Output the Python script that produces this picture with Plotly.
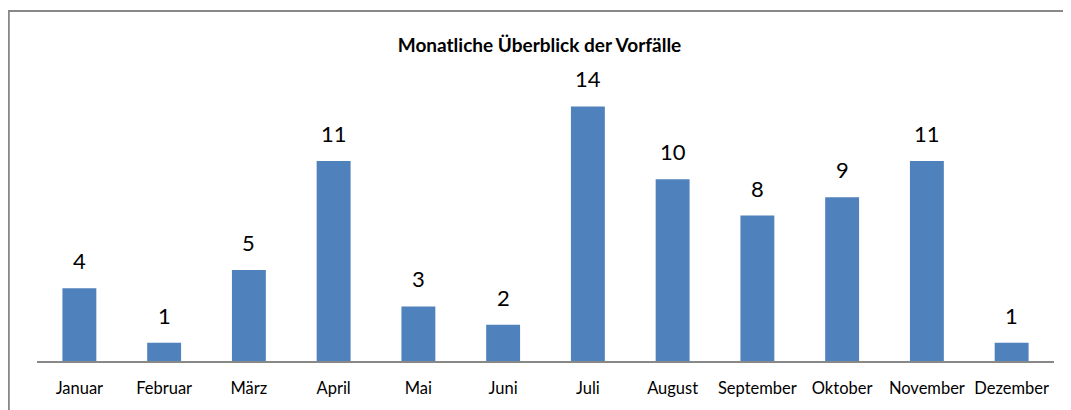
import plotly.graph_objects as go

months = ["Januar", "Februar", "März", "April", "Mai", "Juni", "Juli",
          "August", "September", "Oktober", "November", "Dezember"]
counts = [4, 1, 5, 11, 3, 2, 14, 10, 8, 9, 11, 1]
title = "Monatliche Überblick der Vorfälle"

FONT = "Lato, 'Open Sans', sans-serif"

fig = go.Figure(go.Bar(x=months, y=counts, marker=dict(color="#4F81BD", line=dict(width=0)),
                       width=0.4, hoverinfo="x+y"))

for m, v in zip(months, counts):
    fig.add_annotation(x=m, y=v, text=str(v), showarrow=False, yanchor="bottom",
                       yshift=12, font=dict(family=FONT, size=22, color="#000"))

W, H = 1063, 402
L, R, T, B = 29, 17, 62, 47
pw, ph = W - L - R, H - T - B

fig.add_shape(type="rect", xref="paper", yref="paper",
              x0=(0.8 - L) / pw, x1=1.2, y0=-0.6, y1=1 + (T - 2.5) / ph,
              line=dict(color="#888888", width=2), fillcolor="rgba(0,0,0,0)", layer="below")

fig.update_layout(
    width=W, height=H,
    margin=dict(l=L, r=R, t=T, b=B),
    paper_bgcolor="white", plot_bgcolor="white",
    title=dict(text=title, x=0.5, xanchor="center", y=1 - 37 / H, yanchor="middle",
               font=dict(family=FONT, size=19, color="#000", weight="bold")),
    xaxis=dict(showline=True, linecolor="#888888", linewidth=2, showgrid=False,
               ticks="", tickfont=dict(family=FONT, size=16.5, color="#000"),
               ticklabelstandoff=11, fixedrange=True),
    yaxis=dict(range=[0, 16], visible=False, showgrid=False, zeroline=False, fixedrange=True),
    showlegend=False, bargap=0.6,
)

fig.write_html("out.html")
